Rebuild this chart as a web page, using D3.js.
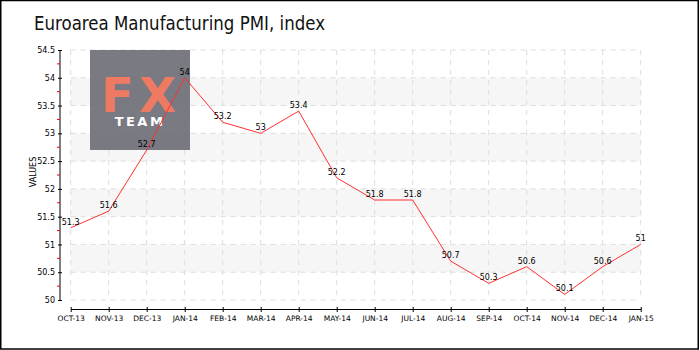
<!DOCTYPE html>
<html>
<head>
<meta charset="utf-8">
<script src="https://cdn.jsdelivr.net/npm/d3@7"></script>
<style>
  body { margin: 0; background: #fff; }
  svg text { font-family: "DejaVu Sans", sans-serif; }
</style>
</head>
<body>
<svg id="chart" width="700" height="350"></svg>
<script>
// chart data
const months = ["OCT-13", "NOV-13", "DEC-13", "JAN-14", "FEB-14", "MAR-14", "APR-14", "MAY-14",
    "JUN-14", "JUL-14", "AUG-14", "SEP-14", "OCT-14", "NOV-14", "DEC-14", "JAN-15"];
const pmi = [51.3, 51.6, 52.7, 54, 53.2, 53, 53.4, 52.2, 51.8, 51.8, 50.7, 50.3, 50.6, 50.1, 50.6, 51];
const yTicks = [50, 50.5, 51, 51.5, 52, 52.5, 53, 53.5, 54, 54.5];
const yMinor = [50.25, 50.75, 51.25, 51.75, 52.25, 52.75, 53.25, 53.75, 54.25];

const svg = d3.select("#chart");

// outer frame
svg.append("rect")
    .attr("x", 0.75).attr("y", 0.5)
    .attr("width", 697.5).attr("height", 348.5)
    .attr("fill", "#fff")
    .attr("stroke", "#000")
    .attr("stroke-width", 1.5);

// title squeezed to the narrow width of the original font
svg.append("text")
    .attr("x", 34)
    .attr("y", 30)
    .attr("font-size", "20px")
    .attr("textLength", 291)
    .attr("lengthAdjust", "spacingAndGlyphs")
    .attr("fill", "#111")
    .text("Euroarea Manufacturing PMI, index");

let x = d3.scalePoint().domain(months).range([70.7, 640.7]);
let y = d3.scaleLinear().domain([50, 54.5]).range([300, 50]);

const plot = svg.append("g");

// alternating bands
plot.append("g")
    .selectAll("rect")
    .data([50.5, 51.5, 52.5, 53.5])
    .enter()
    .append("rect")
    .attr("x", x(months[0]))
    .attr("width", x(months[months.length - 1]) - x(months[0]))
    .attr("y", d => y(d + 0.5))
    .attr("height", d => y(d) - y(d + 0.5))
    .attr("fill", "#f6f6f6");

// grid
plot.append("g")
    .selectAll("line")
    .data(yTicks)
    .enter()
    .append("line")
    .attr("x1", x(months[0])).attr("x2", x(months[months.length - 1]))
    .attr("y1", d => y(d)).attr("y2", d => y(d))
    .attr("stroke", "#ddd")
    .attr("stroke-dasharray", "5,5");

plot.append("g")
    .selectAll("line")
    .data(months)
    .enter()
    .append("line")
    .attr("x1", d => x(d)).attr("x2", d => x(d))
    .attr("y1", y(54.5)).attr("y2", y(50))
    .attr("stroke", "#ddd")
    .attr("stroke-dasharray", "5,5");

// watermark
const logo = svg.append("g").attr("transform", "translate(90,50)");
logo.append("rect")
    .attr("width", 100).attr("height", 100)
    .attr("fill", "#6c6c76")
    .attr("opacity", 0.9);
logo.append("text")
    .attr("x", 51).attr("y", 62)
    .attr("text-anchor", "middle")
    .attr("font-size", "48px")
    .attr("font-weight", "bold")
    .attr("letter-spacing", "5px")
    .attr("font-family", "Liberation Sans, sans-serif")
    .attr("fill", "#ef7a64")
    .text("FX");
logo.append("text")
    .attr("x", 50).attr("y", 76)
    .attr("text-anchor", "middle")
    .attr("font-size", "13px")
    .attr("font-weight", "bold")
    .attr("letter-spacing", "2.5px")
    .attr("font-family", "Liberation Sans, sans-serif")
    .attr("fill", "#fff")
    .text("TEAM");

// axes
const yAxis = svg.append("g")
    .attr("transform", "translate(60,0)")
    .call(d3.axisLeft(y).tickValues(yTicks).tickSize(2).tickPadding(3).tickFormat(d3.format("")));
yAxis.select(".domain").attr("d", "M0," + y(50) + "V" + y(54.5));
yAxis.selectAll(".tick line").attr("x1", -2).attr("x2", 2).attr("stroke", "#000");
yAxis.selectAll("text").attr("font-size", "8px").attr("fill", "#000");

svg.append("g")
    .selectAll("line")
    .data(yMinor)
    .enter()
    .append("line")
    .attr("x1", 57).attr("x2", 60)
    .attr("y1", d => y(d)).attr("y2", d => y(d))
    .attr("stroke", "#e00");

const xAxis = svg.append("g")
    .attr("transform", "translate(0,309)")
    .call(d3.axisBottom(x).tickSize(3).tickPadding(4).tickSizeOuter(0));
xAxis.selectAll(".tick line").attr("y1", -2).attr("y2", 3).attr("stroke", "#000");
xAxis.select(".domain").attr("stroke", "#000");
xAxis.selectAll("text").attr("font-size", "7.5px").attr("fill", "#000");

svg.append("text")
    .attr("transform", "translate(36,172) rotate(-90)")
    .attr("text-anchor", "middle")
    .attr("font-size", "8px")
    .attr("fill", "#000")
    .text("VALUES");

// series
const line = d3.line()
    .x((d, i) => x(months[i]))
    .y(d => y(d));

svg.append("path")
    .datum(pmi)
    .attr("d", line)
    .attr("fill", "none")
    .attr("stroke", "#ff3030")
    .attr("stroke-width", 1);

svg.append("g")
    .selectAll("text")
    .data(pmi)
    .enter()
    .append("text")
    .attr("x", (d, i) => x(months[i]))
    .attr("y", d => y(d) - 3)
    .attr("text-anchor", "middle")
    .attr("font-size", "8px")
    .attr("fill", "#000")
    .text(d => d);
</script>
</body>
</html>
